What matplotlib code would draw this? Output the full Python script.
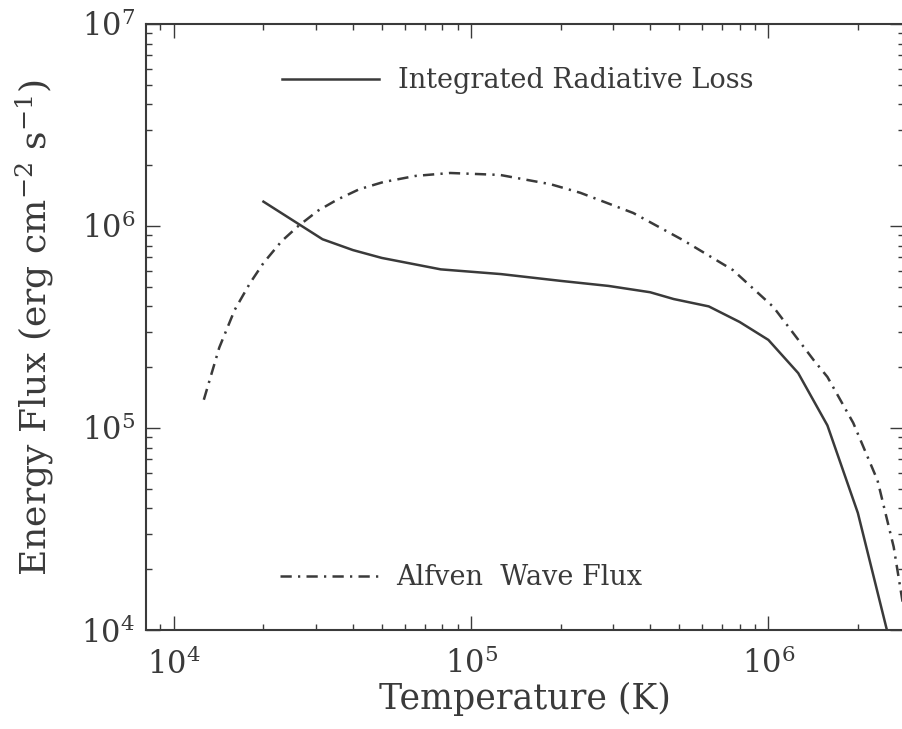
import numpy as np
import matplotlib
matplotlib.use("Agg")
import matplotlib.pyplot as plt

plt.rcParams['font.family'] = ['DejaVu Serif']
plt.rcParams['mathtext.fontset'] = 'dejavuserif'

INK = '#3a3a3a'

# Integrated radiative loss (solid)
rad_T = [2.0e4, 3.16e4, 4.0e4, 5.0e4, 7.9e4, 1.26e5, 2.0e5, 2.9e5, 4.0e5,
         4.8e5, 6.3e5, 8.0e5, 1.0e6, 1.26e6, 1.58e6, 2.0e6, 2.55e6]
rad_F = [1.32e6, 8.6e5, 7.6e5, 6.95e5, 6.1e5, 5.78e5, 5.35e5, 5.05e5, 4.7e5,
         4.35e5, 4.0e5, 3.35e5, 2.73e5, 1.87e5, 1.03e5, 3.8e4, 9.0e3]

# Alfven wave flux (dash-dot)
alf_T = [1.26e4, 1.42e4, 1.6e4, 1.8e4, 2.0e4, 2.3e4, 2.62e4, 3.05e4, 3.54e4,
         4.2e4, 5.06e4, 6.5e4, 8.5e4, 1.25e5, 1.85e5, 2.33e5, 3.51e5, 5.17e5,
         7.6e5, 1.04e6, 1.42e6, 1.58e6, 1.93e6, 2.33e6, 2.64e6, 2.9e6]
alf_F = [1.38e5, 2.5e5, 3.84e5, 5.2e5, 6.56e5, 8.4e5, 1.0e6, 1.19e6, 1.35e6,
         1.52e6, 1.65e6, 1.77e6, 1.83e6, 1.79e6, 1.61e6, 1.46e6, 1.16e6, 8.5e5,
         6.05e5, 3.97e5, 2.17e5, 1.79e5, 1.06e5, 5.5e4, 2.58e4, 1.1e4]

fig = plt.figure(figsize=(9.03, 7.29), dpi=100)
W, H = 903, 729
left, right, bottom, top = 146, 904, 630, 24
ax = fig.add_axes([left / W, 1 - bottom / H, (right - left) / W, (bottom - top) / H])

l1, = ax.plot(rad_T, rad_F, color=INK, lw=1.8, label='Integrated Radiative Loss')
l2, = ax.plot(alf_T, alf_F, color=INK, lw=1.8, dashes=(4.5, 2.5, 0.9, 2.5),
              label='Alfven  Wave Flux')

ax.set_xscale('log')
ax.set_yscale('log')
ax.set_xlim(8.05e3, 2.86e6)
ax.set_ylim(1e4, 1e7)

for s in ax.spines.values():
    s.set_color(INK)
    s.set_linewidth(1.5)
ax.tick_params(which='both', direction='in', top=True, right=True, colors=INK,
               labelsize=22, width=1.0)
ax.tick_params(which='major', length=10, pad=8)
ax.tick_params(axis='x', which='major', pad=13)
ax.tick_params(which='minor', length=4.5)

ax.set_xlabel('Temperature (K)', fontsize=25, color=INK, labelpad=1)
ax.set_ylabel('Energy Flux (erg cm$^{-2}$ s$^{-1}$)', fontsize=26, color=INK,
              labelpad=18)

kw = dict(frameon=False, fontsize=19.5, handlelength=3.6, handletextpad=0.7,
          borderpad=0, borderaxespad=0, labelcolor=INK, loc='center left')
leg1 = ax.legend(handles=[l1], bbox_to_anchor=(0.179, 0.906), **kw)
ax.add_artist(leg1)
ax.legend(handles=[l2], bbox_to_anchor=(0.177, 0.086), **kw)

fig.savefig('out.png', dpi=100)
